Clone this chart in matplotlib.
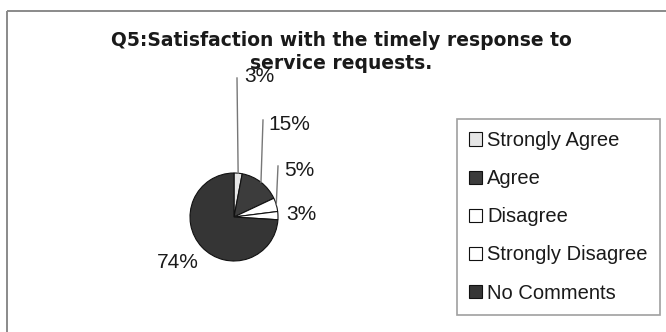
import matplotlib
matplotlib.use("Agg")
import matplotlib.pyplot as plt
import numpy as np

# Survey answers for Q5
categories = ["Strongly Agree", "Agree", "Disagree", "Strongly Disagree", "No Comments"]
shares = [3, 15, 5, 3, 74]
colors = ["#e6e6e6", "#3c3c3c", "#ffffff", "#ffffff", "#353535"]
title = "Q5:Satisfaction with the timely response to\nservice requests."

plt.rcParams["font.family"] = ["Liberation Sans", "DejaVu Sans"]

W, H = 666, 332
fig = plt.figure(figsize=(W / 100, H / 100), dpi=100)
# one axes spanning the canvas, one data unit per pixel
ax = fig.add_axes([0, 0, 1, 1])
ax.set_xlim(0, W)
ax.set_ylim(0, H)
ax.set_aspect("equal")
ax.axis("off")

# outer chart frame (top and left edges)
ax.plot([7, W], [H - 11, H - 11], color="#8a8a8a", lw=1.4, solid_capstyle="butt")
ax.plot([7, 7], [H - 11, 0], color="#8a8a8a", lw=1.4, solid_capstyle="butt")

cx, cy, r = 234, H - 217, 44
wedges, _ = ax.pie(shares, colors=colors, startangle=90, counterclock=False,
                   center=(cx, cy), radius=r, frame=True,
                   wedgeprops=dict(edgecolor="#111111", linewidth=0.8))
ax.set_xlim(0, W)
ax.set_ylim(0, H)
ax.axis("off")

fig.text(341 / W, 1 - 52 / H, title, ha="center", va="center", fontsize=13.5,
         family="DejaVu Sans", fontweight="bold", color="#1a1a1a", linespacing=1.3)

# label positions (text centre) and leader-line tops
label_pos = [(259, H - 77), (289, H - 124), (299, H - 170), (301, H - 215), (178, H - 263)]
leader_top = [(237, H - 78), (263, H - 120), (278, H - 166), None, None]

cum = np.cumsum([0] + shares[:-1])
for i, (v, wdg) in enumerate(zip(shares, wedges)):
    mid = np.deg2rad(90 - (cum[i] + v / 2) * 3.6)
    ex, ey = cx + r * np.cos(mid), cy + r * np.sin(mid)
    if leader_top[i] is not None:
        tx, ty = leader_top[i]
        ax.plot([ex, tx], [ey, ty], color="#777777", lw=1.0)
    lx, ly = label_pos[i]
    ax.text(lx, ly, f"{v}%", ha="center", va="center", fontsize=15, color="#1a1a1a")

leg = ax.legend(wedges, categories, loc="upper left",
                bbox_to_anchor=(457 / W, 1 - 119 / H), bbox_transform=fig.transFigure,
                frameon=True, fancybox=False, edgecolor="#888888", fontsize=14.5,
                handlelength=0.62, handleheight=0.62, handletextpad=0.28,
                labelspacing=0.95, borderpad=0.6, borderaxespad=0)
leg.get_frame().set_linewidth(1.2)
for t in leg.get_texts():
    t.set_color("#1a1a1a")

fig.savefig("out.png", dpi=100, facecolor="white")
